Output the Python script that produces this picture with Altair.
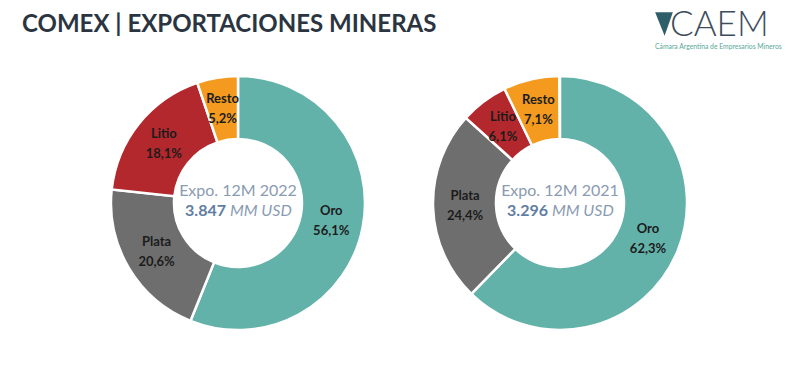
import altair as alt
import pandas as pd

categories = ["Oro", "Plata", "Litio", "Resto"]
colors = ["#63b2a9", "#6e6e6e", "#b3282d", "#f39a1f"]
years = ["2022", "2021"]
values_2022 = [56.1, 20.6, 18.1, 5.2]
values_2021 = [62.3, 24.4, 6.1, 7.1]
totals = ["3.847", "3.296"]
center_line1 = ["Expo. 12M 2022", "Expo. 12M 2021"]
unit_text = "MM USD"
title_text = "COMEX | EXPORTACIONES MINERAS"
logo_text = "CAEM"
logo_sub = "Cámara Argentina de Empresarios Mineros"

rows = []
for y, vals in zip(years, [values_2022, values_2021]):
    for i, (c, v) in enumerate(zip(categories, vals)):
        rows.append({"year": y, "cat": c, "order": i, "value": v,
                     "pct": f"{v:.1f}".replace(".", ",") + "%"})
df = pd.DataFrame(rows)

center_df = pd.DataFrame({"year": years, "line1": center_line1,
                          "total": totals, "unit": [unit_text, unit_text]})

xenc = alt.X("year:N", scale=alt.Scale(type="point", domain=years, range=[230, 552], padding=0),
             axis=None)
theta_scale = alt.Scale(domain=[0, 100], range=[0, 6.283185307])
cy = alt.value(192)

base = alt.Chart(df).transform_window(
    end="sum(value)", groupby=["year"], sort=[{"field": "order"}], frame=[None, 0]
).transform_calculate(
    start="datum.end - datum.value", mid="datum.end - datum.value/2"
)

arcs = base.mark_arc(innerRadius=64, outerRadius=127, stroke="white", strokeWidth=2.5).encode(
    x=xenc, y=cy,
    theta=alt.Theta("start:Q", scale=theta_scale),
    theta2="end:Q",
    color=alt.Color("cat:N", scale=alt.Scale(domain=categories, range=colors), legend=None),
)

lbl_name = base.mark_text(radius=95, dy=-10, font="Lato", fontSize=13, fontWeight="bold",
                          color="#1c1c1c").encode(
    x=xenc, y=cy, theta=alt.Theta("mid:Q", scale=theta_scale), text="cat:N")
lbl_pct = base.mark_text(radius=95, dy=10, font="Lato", fontSize=13, fontWeight="bold",
                         color="#1c1c1c").encode(
    x=xenc, y=cy, theta=alt.Theta("mid:Q", scale=theta_scale), text="pct:N")

cbase = alt.Chart(center_df)
c1 = cbase.mark_text(dy=-12, font="Lato", fontSize=16, color="#8a9bb2").encode(
    x=xenc, y=cy, text="line1:N")
c2 = cbase.mark_text(dy=8, dx=-12, align="right", font="Lato", fontSize=16,
                     fontWeight="bold", color="#5f7ea3").encode(x=xenc, y=cy, text="total:N")
c3 = cbase.mark_text(dy=8, dx=-8, align="left", font="Lato", fontSize=16,
                     fontStyle="italic", color="#8a9bb2").encode(x=xenc, y=cy, text="unit:N")

tdf = pd.DataFrame({"t": [title_text]})
title = alt.Chart(tdf).mark_text(align="left", baseline="middle", font="Lato", fontSize=24,
                                 fontWeight="bold", color="#2b3541").encode(
    x=alt.value(14), y=alt.value(14), text="t:N")

ldf = pd.DataFrame({"t": [logo_text], "s": [logo_sub]})
logo = alt.Chart(ldf).mark_text(align="left", baseline="middle", font="Lato", fontSize=35,
                                fontWeight=300, color="#3e4c5c").encode(
    x=alt.value(662), y=alt.value(14), text="t:N")
logo_s = alt.Chart(ldf).mark_text(align="left", baseline="middle", font="Lato", fontSize=6.8,
                                  color="#5aa89a").encode(
    x=alt.value(647), y=alt.value(36), text="s:N")
logo_tri = alt.Chart(ldf).mark_point(shape="M-0.75,-1 L0.75,-1 L0.05,1 Z", filled=True,
                                     size=560, color="#2f5e6b", opacity=1).encode(
    x=alt.value(656), y=alt.value(13))

chart = alt.layer(arcs, lbl_name, lbl_pct, c1, c2, c3, title, logo, logo_s, logo_tri).properties(
    width=784, height=362, padding=0,
    autosize=alt.AutoSizeParams(type="fit", contains="padding"),
).configure_view(stroke=None)

chart.save("out.html", embed_options={"renderer": "svg", "actions": False})
